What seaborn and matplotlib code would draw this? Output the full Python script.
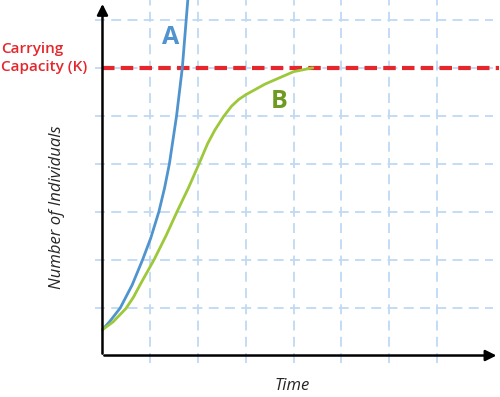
import seaborn as sns
import matplotlib.pyplot as plt
import numpy as np
import pandas as pd

# values (time units = grid cells)
time_a = [0, 0.16, 0.37, 0.62, 0.84, 1.01, 1.18, 1.30, 1.40, 1.55, 1.67, 1.80]
count_a = [0.54, 0.72, 0.99, 1.47, 2.0, 2.45, 3.0, 3.5, 4.0, 5.0, 6.0, 7.6]

time_b = [0, 0.22, 0.49, 0.65, 0.80, 1.08, 1.33, 1.56, 1.80, 2.02, 2.20, 2.35,
          2.53, 2.70, 2.85, 3.0, 3.40, 4.0, 4.4]
count_b = [0.54, 0.70, 0.98, 1.22, 1.5, 2.0, 2.5, 3.0, 3.5, 4.0, 4.42, 4.70,
           4.98, 5.20, 5.34, 5.44, 5.66, 5.92, 6.0]

carrying_capacity = 6
grid_x = [1, 2, 3, 4, 5, 6, 7]
grid_y = [1, 2, 3, 4, 5, 6, 7]

blue = '#4f94cf'
green = '#9dc83a'
red = '#e5262c'
gridc = '#bfd9f6'

df = pd.concat([
    pd.DataFrame({'time': time_a, 'n': count_a, 'curve': 'A'}),
    pd.DataFrame({'time': time_b, 'n': count_b, 'curve': 'B'}),
])

sns.set_style('white')
plt.rcParams['font.family'] = ['Open Sans', 'DejaVu Sans']

fig = plt.figure(figsize=(5, 3.97), dpi=100)
ax = fig.add_axes([0, 0, 1, 1])
ax.set_xlim(-2.144, 8.316)
ax.set_ylim(-0.865, 7.414)
ax.axis('off')

# dashed light blue grid
ax.vlines(grid_x, -0.16, 7.42, colors=gridc, linestyles=(0, (5.5, 3.5)), lw=1.3, zorder=1)
ax.hlines(grid_y, -0.16, 8.17, colors=gridc, linestyles=(0, (5.5, 3.5)), lw=1.3, zorder=1)

sns.lineplot(data=df, x='time', y='n', hue='curve', palette={'A': blue, 'B': green},
             lw=2.0, legend=False, ax=ax, zorder=3, estimator=None)

ax.hlines(carrying_capacity, 0, 8.3, colors=red, linestyles=(0, (3, 1.5)), lw=3.0, zorder=2)

# axes with arrows
ax.annotate('', xy=(0, 7.39), xytext=(0, -0.02),
            arrowprops=dict(arrowstyle='-|>', color='black', lw=1.8, mutation_scale=16))
ax.annotate('', xy=(8.3, 0), xytext=(-0.02, 0),
            arrowprops=dict(arrowstyle='-|>', color='black', lw=1.8, mutation_scale=16))

ax.text(-2.13, 6.2, 'Carrying\nCapacity (K)', color=red, fontsize=11, fontweight='semibold',
        ha='left', va='center', linespacing=1.4)
ax.text(1.43, 6.64, 'A', color=blue, fontsize=18, fontweight='bold', ha='center', va='center')
ax.text(3.69, 5.30, 'B', color='#6e9a22', fontsize=18, fontweight='bold', ha='center', va='center')
ax.text(-0.95, 3.1, 'Number of Individuals', rotation=90, style='italic', fontsize=12,
        ha='center', va='center')
ax.text(3.96, -0.64, 'Time', style='italic', fontsize=12, ha='center', va='center')

fig.savefig('out.png', dpi=100)
